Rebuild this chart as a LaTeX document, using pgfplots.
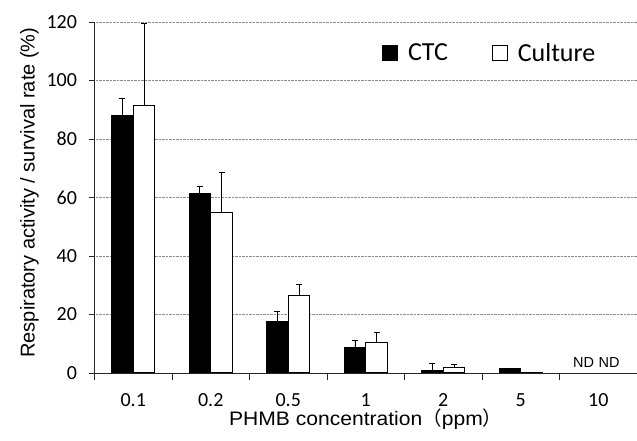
\documentclass[border=0pt]{standalone}
\usepackage{pgfplots}
\pgfplotsset{compat=1.18}
\usepackage{fontspec}
\setmainfont{Liberation Sans}
\newfontfamily\carlito{Carlito}
\newfontfamily\xlabfont[FakeStretch=1.08]{Liberation Sans}
\newfontfamily\cjk{Noto Sans CJK JP}
\pgfplotsset{sqlegend/.style={legend image code/.code={\draw[##1, line width=0.8pt] (0pt,-7.5pt) rectangle (15pt,7.5pt);}}}
\begin{document}
\begin{tikzpicture}
\begin{axis}[
  name=ax,
  scale only axis, width=542.5pt, height=351pt,
  xmin=-0.5, xmax=6.5, ymin=0, ymax=120,
  ybar=0pt, bar width=0.28,
  axis x line*=bottom, axis y line*=left,
  axis line style={-, line width=0.9pt, black!85},
  xtick={0,...,6}, xticklabels={0.1,0.2,0.5,1,2,5,10},
  minor xtick={-0.5,0.5,1.5,2.5,3.5,4.5,5.5},
  major x tick style={draw=none},
  minor x tick style={black!85, line width=0.9pt},
  minor tick length=7pt,
  major tick length=5pt,
  tick align=outside,
  ytick={0,20,...,120},
  ytick style={black!85, line width=0.9pt},
  ymajorgrids, major grid style={densely dotted, black!45, line width=0.6pt},
  /pgf/number format/assume math mode=true,
  xticklabel style={font=\carlito\fontsize{20}{24}\selectfont, yshift=-12pt},
  yticklabel={\carlito\fontsize{20}{24}\selectfont\pgfmathprintnumber{\tick}\hspace*{9pt}},
  xlabel={PHMB concentration{\cjk （}ppm{\cjk ）}},
  xlabel style={at={(axis description cs:0.5,-0.150)}, anchor=base, font=\xlabfont\fontsize{19.5}{22}\selectfont},
  ylabel={Respiratory activity / survival rate (\%)},
  ylabel style={at={(axis description cs:-0.1106,0.514)}, anchor=base, font=\fontsize{20}{24}\selectfont},
  legend columns=2,
  legend style={draw=none, fill=none, at={(axis description cs:0.53,0.912)}, anchor=west,
    font=\carlito\fontsize{26}{30}\selectfont, inner sep=0pt,
    /tikz/every odd column/.append style={column sep=8pt},
    /tikz/every even column/.append style={column sep=42pt}},
  error bars/y dir=plus, error bars/y explicit,
  error bars/error mark options={rotate=90, mark size=3pt, line width=0.8pt},
  error bars/error bar style={line width=0.8pt, black},
]
\addplot[fill=black, draw=black, line width=1pt, sqlegend]
  table[x=x, y=y, y error plus=e] {
x y e
0 87.9 6.1
1 61.4 2.5
2 17.7 3.2
3 8.6 2.4
4 0.7 2.7
5 1.4 0.3
};
\addlegendentry{CTC}
\addplot[fill=white, draw=black, line width=1pt, sqlegend]
  table[x=x, y=y, y error plus=e] {
x y e
0 91.3 28.2
1 54.8 13.9
2 26.6 3.8
3 10.5 3.4
4 1.9 1.1
5 0.25 0
};
\addlegendentry{Culture}
\node[anchor=base, font=\fontsize{14.5}{17}\selectfont, inner sep=0pt] at (axis cs:5.81,1.8) {ND};
\node[anchor=base, font=\fontsize{14.5}{17}\selectfont, inner sep=0pt] at (axis cs:6.14,1.8) {ND};
\end{axis}
\pgfresetboundingbox
\path ([shift={(-94.5pt,-68pt)}]ax.south west) rectangle ([shift={(0pt,22pt)}]ax.north east);
\end{tikzpicture}
\end{document}
